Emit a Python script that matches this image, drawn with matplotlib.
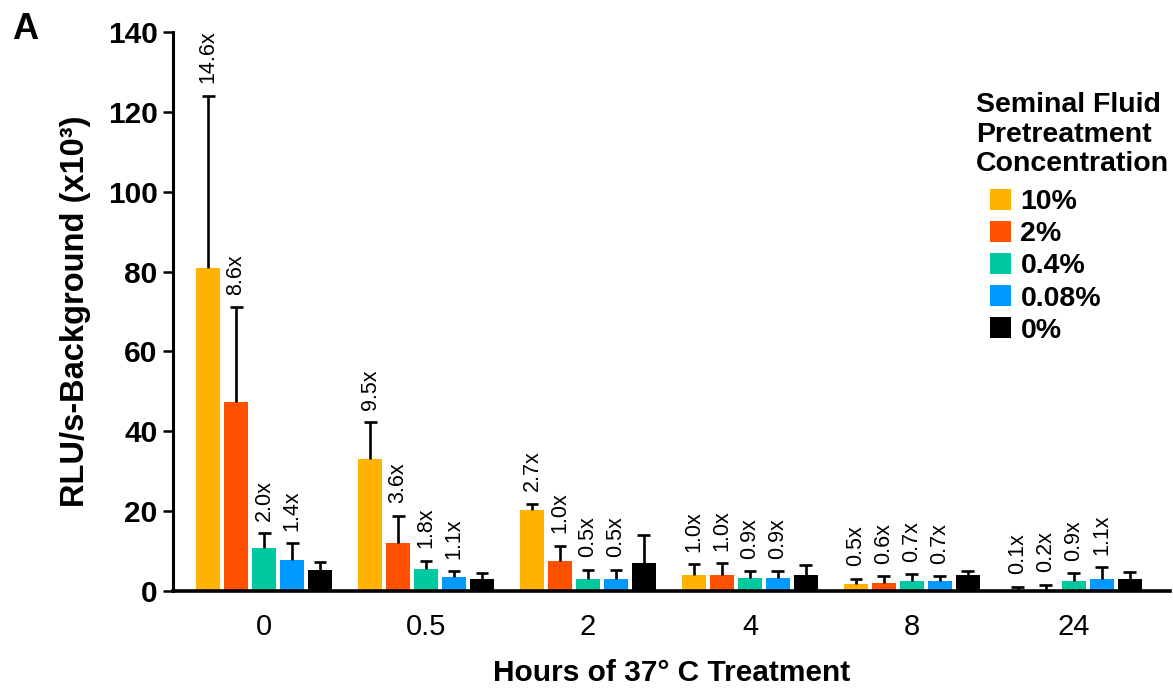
import numpy as np
import matplotlib
matplotlib.use("Agg")
import matplotlib.pyplot as plt
from matplotlib.patches import Patch

plt.rcParams['font.family'] = ['Liberation Sans', 'DejaVu Sans']

hours = ["0", "0.5", "2", "4", "8", "24"]
concentrations = ["10%", "2%", "0.4%", "0.08%", "0%"]
colors = ["#FFB200", "#FF5100", "#00C9A0", "#0099FF", "#000000"]

# mean RLU/s - background (x10^3), one list per concentration
mean_10 = [80.8, 33.1, 20.3, 4.0, 1.8, 0.3]
mean_2 = [47.3, 12.0, 7.5, 4.0, 2.0, 0.3]
mean_04 = [10.8, 5.6, 3.1, 3.3, 2.6, 2.6]
mean_008 = [7.8, 3.4, 3.1, 3.3, 2.6, 3.1]
mean_0 = [5.2, 2.9, 7.1, 4.0, 4.0, 3.0]

# top of the error bar
top_10 = [124.0, 42.3, 21.9, 6.7, 3.1, 1.1]
top_2 = [71.1, 18.9, 11.3, 6.9, 3.7, 1.6]
top_04 = [14.5, 7.6, 5.3, 5.0, 4.2, 4.5]
top_008 = [12.0, 5.0, 5.3, 5.0, 3.7, 6.0]
top_0 = [7.3, 4.4, 14.0, 6.5, 5.0, 4.7]

# fold change labels (no label on the 0% bars)
fold_10 = ["14.6x", "9.5x", "2.7x", "1.0x", "0.5x", "0.1x"]
fold_2 = ["8.6x", "3.6x", "1.0x", "1.0x", "0.6x", "0.2x"]
fold_04 = ["2.0x", "1.8x", "0.5x", "0.9x", "0.7x", "0.9x"]
fold_008 = ["1.4x", "1.1x", "0.5x", "0.9x", "0.7x", "1.1x"]

means = [mean_10, mean_2, mean_04, mean_008, mean_0]
tops = [top_10, top_2, top_04, top_008, top_0]
folds = [fold_10, fold_2, fold_04, fold_008, None]

fig = plt.figure(figsize=(11.73, 6.92), dpi=100)
ax = fig.add_axes([173 / 1173, 101 / 692, 997 / 1173, 559 / 692])

x = np.arange(len(hours))
step = 0.1728
width = 0.148
cap = 0.04

for i in range(len(concentrations)):
    pos = x + (i - 2) * step
    m = np.array(means[i])
    t = np.array(tops[i])
    ax.bar(pos, m, width=width, color=colors[i], edgecolor='none', zorder=2)
    # upper error bars only
    ax.vlines(pos, m, t, color='black', linewidth=1.9, zorder=3)
    ax.hlines(t, pos - cap, pos + cap, color='black', linewidth=1.9, zorder=3)
    if folds[i] is not None:
        for px, ty, lab in zip(pos, t, folds[i]):
            ax.annotate(lab, (px, ty), xytext=(0, 9), textcoords='offset points',
                        rotation=90, ha='center', va='bottom', fontsize=15.5)

ax.set_xlim(-0.562, 5.593)
ax.set_ylim(0, 140)
ax.set_yticks(range(0, 141, 20))
ax.set_xticks(x)
ax.set_xticklabels(hours, fontsize=21)
for lab in ax.get_yticklabels():
    lab.set_fontsize(21.5)
    lab.set_fontweight('bold')

ax.spines['top'].set_visible(False)
ax.spines['right'].set_visible(False)
ax.spines['left'].set_linewidth(2.2)
ax.spines['bottom'].set_linewidth(2.6)
ax.tick_params(axis='y', length=7, width=1.8, pad=4)
ax.tick_params(axis='x', length=0, pad=16)

ax.set_ylabel("RLU/s-Background (x10³)", fontsize=23.5, fontweight='bold', labelpad=12)
ax.set_xlabel("Hours of 37° C Treatment", fontsize=21.5, fontweight='bold', labelpad=13)

fig.text(12 / 1173, 1 - 12 / 692, "A", fontsize=26, fontweight='bold', va='top', ha='left')

fig.text(976 / 1173, 1 - 92 / 692, "Seminal Fluid\nPretreatment\nConcentration",
         fontsize=20.5, fontweight='bold', va='top', ha='left', linespacing=1.18)

handles = [Patch(facecolor=c, edgecolor='none') for c in colors]
ax.legend(handles, concentrations, loc='upper left', bbox_to_anchor=(990 / 1173, 1 - 189 / 692),
          bbox_transform=fig.transFigure, frameon=False, borderpad=0, borderaxespad=0,
          handlelength=0.75, handleheight=0.75, handletextpad=0.32, labelspacing=0.2,
          prop={'size': 20.5, 'weight': 'bold'})

fig.savefig("out.png", dpi=100)
